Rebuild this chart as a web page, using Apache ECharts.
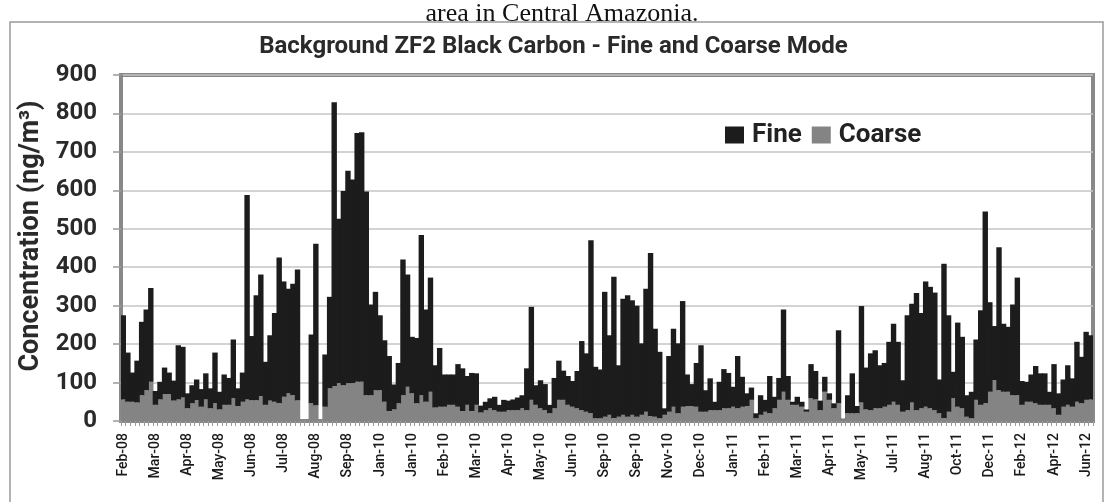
<!DOCTYPE html>
<html>
<head>
<meta charset="utf-8">
<script src="https://cdn.jsdelivr.net/npm/echarts@6.0.0/dist/echarts.min.js"></script>
<style>
html,body{margin:0;padding:0;background:#fff;}
#chart{width:1107px;height:502px;}
</style>
</head>
<body>
<div id="chart"></div>
<script>
// Tick labels shown under every 7th sample
const tickLabels = ['Feb-08','Mar-08','Apr-08','May-08','Jun-08','Jul-08','Aug-08','Sep-08',
  'Jan-10','Jan-10','Feb-10','Mar-10','Apr-10','May-10','Jun-10',
  'Sep-10','Sep-10','Nov-10','Dec-10','Jan-11','Feb-11','Mar-11','Apr-11','May-11',
  'Jul-11','Aug-11','Oct-11','Dec-11','Feb-12','Apr-12','Jun-12'];
const labelEvery = 7;

// Coarse mode BC (ng/m3), one value per sample
const coarse = [
  56,50,50,48,67,80,102,42,56,70,
  70,53,56,61,33,46,54,37,56,33,
  46,30,42,42,59,39,50,56,54,54,
  65,42,53,50,46,63,72,67,53,null,
  null,46,40,null,37,85,91,98,93,98,
  99,102,102,67,67,80,80,50,26,30,
  46,67,89,72,46,67,50,76,35,37,
  37,42,42,37,26,42,26,42,22,28,
  33,28,24,24,28,28,28,33,28,55,
  42,33,28,20,33,55,55,42,37,33,
  28,24,20,7,7,11,16,7,11,16,
  11,16,11,16,24,13,11,7,16,24,
  37,20,37,39,39,37,24,24,28,28,
  28,33,33,37,33,37,39,55,7,16,
  24,20,33,55,76,55,42,42,37,24,
  59,56,28,76,55,33,46,5,20,20,
  20,48,30,28,33,33,37,42,50,42,
  24,28,48,28,33,37,33,28,20,7,
  24,59,37,33,11,7,55,42,46,76,
  106,80,76,76,67,67,42,50,50,46,
  42,42,42,33,16,37,42,37,50,46,
  55,56
];

// Fine mode BC (ng/m3), stacked on top of coarse
const fine = [
  219,128,76,109,191,210,244,36,46,69,
  56,52,141,132,39,47,54,46,68,52,
  132,46,79,70,153,46,76,532,167,273,
  316,112,170,231,379,300,272,290,341,null,
  null,179,421,null,136,238,738,428,505,553,
  529,647,649,530,236,256,195,160,143,65,
  105,353,292,147,170,417,240,297,110,153,
  84,79,79,111,111,75,99,82,18,22,
  26,35,18,31,25,28,33,34,109,242,
  51,73,68,22,79,102,76,75,67,97,
  180,152,450,134,127,325,207,368,134,302,
  316,298,289,186,320,424,229,173,17,145,
  203,182,275,82,57,114,173,56,83,22,
  74,102,92,52,136,78,33,32,13,51,
  31,97,30,57,214,62,8,21,13,6,
  89,74,25,39,17,13,190,1,47,104,
  19,251,109,148,151,112,114,164,203,164,
  82,247,257,305,248,326,316,306,88,402,
  251,69,219,186,56,69,157,246,499,233,
  141,372,177,169,236,306,62,52,71,97,
  82,82,34,115,56,71,103,74,156,121,
  177,167
];

const categories = coarse.map((_, i) => String(i));

const chart = echarts.init(document.getElementById('chart'), null, {renderer: 'canvas'});
chart.setOption({
  animation: false,
  backgroundColor: '#ffffff',
  title: {
    text: 'Background ZF2 Black Carbon - Fine and Coarse Mode',
    left: 'center',
    top: 35,
    padding: 0,
    textStyle: {fontFamily: 'Roboto', fontWeight: 'bold', fontSize: 24, color: '#2a2a2a'}
  },
  graphic: [
    {
      type: 'rect', silent: true, z: -10,
      shape: {x: 10, y: 22, width: 1093, height: 500},
      style: {fill: 'none', stroke: '#9a9a9a', lineWidth: 1.5}
    },
    {
      type: 'text', silent: true,
      style: {
        text: 'area in Central Amazonia.', x: 562, y: 27,
        font: '26px "Liberation Serif"', fill: '#111',
        textAlign: 'center', textVerticalAlign: 'bottom', align: 'center', verticalAlign: 'bottom'
      }
    }
  ],
  legend: {
    data: ['Fine', 'Coarse'],
    left: 725, top: 122, padding: 0,
    icon: 'rect', itemWidth: 19, itemHeight: 17, itemGap: 10,
    textStyle: {fontFamily: 'Roboto', fontWeight: 'bold', fontSize: 26, color: '#222', padding: [0, 0, 0, 3]}
  },
  grid: {
    left: 121, right: 14, top: 75, bottom: 81,
    show: true, borderColor: '#888888', borderWidth: 4, backgroundColor: '#ffffff'
  },
  xAxis: {
    type: 'category',
    data: categories,
    boundaryGap: true,
    axisLine: {show: true, lineStyle: {color: '#888888', width: 4}},
    axisTick: {show: true, interval: 0, length: 5, lineStyle: {color: '#9a9a9a', width: 1}},
    axisLabel: {
      interval: (i) => i % labelEvery === 0,
      formatter: (v, i) => tickLabels[i / labelEvery] || '',
      rotate: 90, margin: 12,
      fontFamily: 'Roboto', fontWeight: 500, fontSize: 14, color: '#1a1a1a'
    },
    splitLine: {show: false}
  },
  yAxis: {
    type: 'value',
    min: 0, max: 900, interval: 100,
    name: 'Concentration (ng/m³)',
    nameLocation: 'middle',
    nameGap: 64,
    nameTextStyle: {fontFamily: 'Roboto', fontWeight: 'bold', fontSize: 27, color: '#2a2a2a', padding: [0, 0, 0, 24]},
    axisLine: {show: true, lineStyle: {color: '#888888', width: 4}},
    axisTick: {show: true, length: 8, lineStyle: {color: '#9a9a9a', width: 1.5}},
    axisLabel: {margin: 24, fontFamily: 'Roboto', fontWeight: 'bold', fontSize: 24, color: '#2a2a2a'},
    splitLine: {show: true, lineStyle: {color: '#c4c4c4', width: 1.5}}
  },
  series: [
    {
      name: 'Coarse', type: 'bar', stack: 'bc', data: coarse,
      barWidth: 5.4,
      itemStyle: {color: '#848484'}
    },
    {
      name: 'Fine', type: 'bar', stack: 'bc', data: fine,
      barWidth: 5.4,
      itemStyle: {color: '#1c1c1c'}
    }
  ]
});
</script>
</body>
</html>
